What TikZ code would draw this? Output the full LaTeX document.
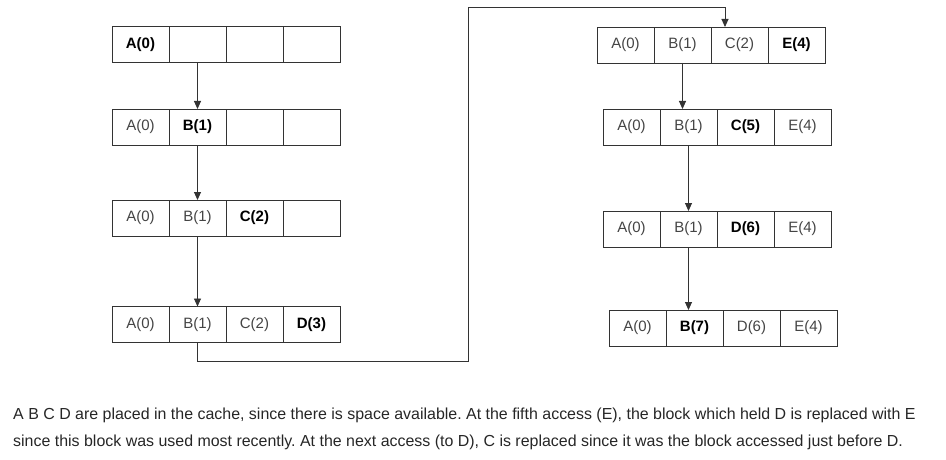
\documentclass[tikz,border=0pt]{standalone}
\usepackage{fontspec}
\setmainfont{Liberation Sans}
\usetikzlibrary{positioning,arrows.meta,calc}

\definecolor{linegray}{HTML}{333333}
\definecolor{textgray}{HTML}{444444}

\begin{document}
\begin{tikzpicture}[x=1pt,y=-1pt,
    cell/.style={draw=linegray,line width=0.9pt,minimum width=57pt,minimum height=36pt,
        inner sep=0pt,outer sep=0pt,text=textgray,font=\fontsize{15}{18}\selectfont},
    hit/.style={cell,text=black,font=\fontsize{15}{18}\selectfont\bfseries},
    arr/.style={draw=linegray,line width=0.9pt,-{Triangle[length=8pt,width=7pt]}}]
    \useasboundingbox (0,0) rectangle (946,460);

    % Left column: cache fills up
    \node[hit] (l1a) at (140.5,44.5) {A(0)};
    \node[cell,right=0pt of l1a] (l1b) {};
    \node[cell,right=0pt of l1b] (l1c) {};
    \node[cell,right=0pt of l1c] (l1d) {};

    \node[cell] (l2a) at (140.5,127) {A(0)};
    \node[hit,right=0pt of l2a] (l2b) {B(1)};
    \node[cell,right=0pt of l2b] (l2c) {};
    \node[cell,right=0pt of l2c] (l2d) {};

    \node[cell] (l3a) at (140.5,218) {A(0)};
    \node[cell,right=0pt of l3a] (l3b) {B(1)};
    \node[hit,right=0pt of l3b] (l3c) {C(2)};
    \node[cell,right=0pt of l3c] (l3d) {};

    \node[cell] (l4a) at (140.5,324.5) {A(0)};
    \node[cell,right=0pt of l4a] (l4b) {B(1)};
    \node[cell,right=0pt of l4b] (l4c) {C(2)};
    \node[hit,right=0pt of l4c] (l4d) {D(3)};

    % Right column: replacements
    \node[cell] (r1a) at (625.5,45) {A(0)};
    \node[cell,right=0pt of r1a] (r1b) {B(1)};
    \node[cell,right=0pt of r1b] (r1c) {C(2)};
    \node[hit,right=0pt of r1c] (r1d) {E(4)};

    \node[cell] (r2a) at (631.5,127) {A(0)};
    \node[cell,right=0pt of r2a] (r2b) {B(1)};
    \node[hit,right=0pt of r2b] (r2c) {C(5)};
    \node[cell,right=0pt of r2c] (r2d) {E(4)};

    \node[cell] (r3a) at (631.5,229) {A(0)};
    \node[cell,right=0pt of r3a] (r3b) {B(1)};
    \node[hit,right=0pt of r3b] (r3c) {D(6)};
    \node[cell,right=0pt of r3c] (r3d) {E(4)};

    \node[cell] (r4a) at (637.5,328) {A(0)};
    \node[hit,right=0pt of r4a] (r4b) {B(7)};
    \node[cell,right=0pt of r4b] (r4c) {D(6)};
    \node[cell,right=0pt of r4c] (r4d) {E(4)};

    % Arrows
    \draw[arr] (l1b.south) -- (l2b.north);
    \draw[arr] (l2b.south) -- (l3b.north);
    \draw[arr] (l3b.south) -- (l4b.north);
    \draw[arr] (l4b.south) -- ++(0,19) -| (468,7) -| ([xshift=14pt]r1c.north west);
    \draw[arr] (r1b.south) -- (r1b.south |- r2b.north);
    \draw[arr] (r2b.south) -- (r3b.north);
    \draw[arr] (r3b.south) -- (r3b.south |- r4b.north);

    % Caption
    \node[anchor=north west,align=left,inner sep=0pt,text=black!85,
        font=\fontsize{15.95}{27}\selectfont\frenchspacing] (caption) at (13,408)
        {A B C D are placed in the cache, since there is space available. At the fifth access (E), the block which held D is replaced with E\\
         since this block was used most recently. At the next access (to D), C is replaced since it was the block accessed just before D.};
\end{tikzpicture}
\end{document}
